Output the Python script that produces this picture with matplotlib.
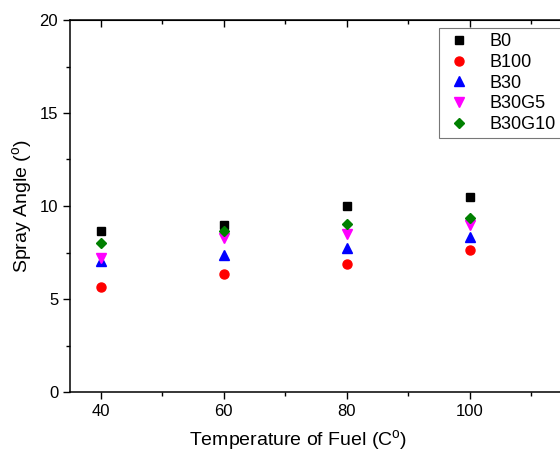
import matplotlib
matplotlib.use("Agg")
import matplotlib.pyplot as plt
from matplotlib.ticker import MultipleLocator

plt.rcParams['font.family'] = ['Liberation Sans', 'DejaVu Sans']

temperature = [40, 60, 80, 100]
b0 = [8.66, 8.98, 10.0, 10.5]
b100 = [5.66, 6.33, 6.90, 7.63]
b30 = [7.02, 7.37, 7.72, 8.35]
b30g5 = [7.18, 8.30, 8.48, 8.98]
b30g10 = [8.01, 8.67, 9.01, 9.33]

series = [
    ("B0", b0, 's', 'black', 5.5),
    ("B100", b100, 'o', 'red', 6.5),
    ("B30", b30, '^', 'blue', 7),
    ("B30G5", b30g5, 'v', 'magenta', 7),
    ("B30G10", b30g10, 'D', 'green', 5.5),
]

XMIN, XMAX = 35, 118
PXU = 6.15
fig = plt.figure(figsize=(5.6, 4.53), dpi=100)
W, H = 560, 453
axw = (XMAX - XMIN) * PXU
axh = 392 - 20
ax = fig.add_axes([70 / W, (H - 392) / H, axw / W, axh / H])

for name, vals, mk, col, ms in series:
    ax.plot(temperature, vals, linestyle='none', marker=mk, color=col,
            markersize=ms, label=name)

ax.set_xlim(XMIN, XMAX)
ax.set_ylim(0, 20)
ax.xaxis.set_major_locator(MultipleLocator(20))
ax.xaxis.set_minor_locator(MultipleLocator(10))
ax.yaxis.set_major_locator(MultipleLocator(5))
ax.yaxis.set_minor_locator(MultipleLocator(2.5))
ax.tick_params(which='major', direction='out', length=5, width=1, labelsize=12)
ax.tick_params(which='minor', direction='out', length=3, width=1)
ax.spines['right'].set_visible(False)
for s in ['left', 'bottom', 'top']:
    ax.spines[s].set_linewidth(1.1)

top = ax.secondary_xaxis('top')
top.xaxis.set_major_locator(MultipleLocator(20))
top.xaxis.set_minor_locator(MultipleLocator(10))
top.tick_params(which='major', direction='in', length=5, width=1, labeltop=False)
top.tick_params(which='minor', direction='in', length=3, width=1)

ax.set_xlabel('Temperature of Fuel (C$^{\\mathregular{o}}$)', fontsize=14)
ax.xaxis.set_label_coords((298 - 70) / axw, (392 - 428) / axh)
ax.set_ylabel('Spray Angle ($^{\\mathregular{o}}$)', fontsize=14)
ax.yaxis.set_label_coords((35 - 70) / axw, 0.5)

leg = ax.legend(loc='upper left', bbox_to_anchor=((439 - 70) / axw, (392 - 28) / axh),
                frameon=True, fancybox=False, fontsize=13, handletextpad=0.9,
                labelspacing=0.2, borderpad=0.3, handlelength=1.6,
                borderaxespad=0)
leg.get_frame().set_edgecolor('#555555')
leg.get_frame().set_linewidth(0.8)

fig.savefig('out.png', dpi=100)
